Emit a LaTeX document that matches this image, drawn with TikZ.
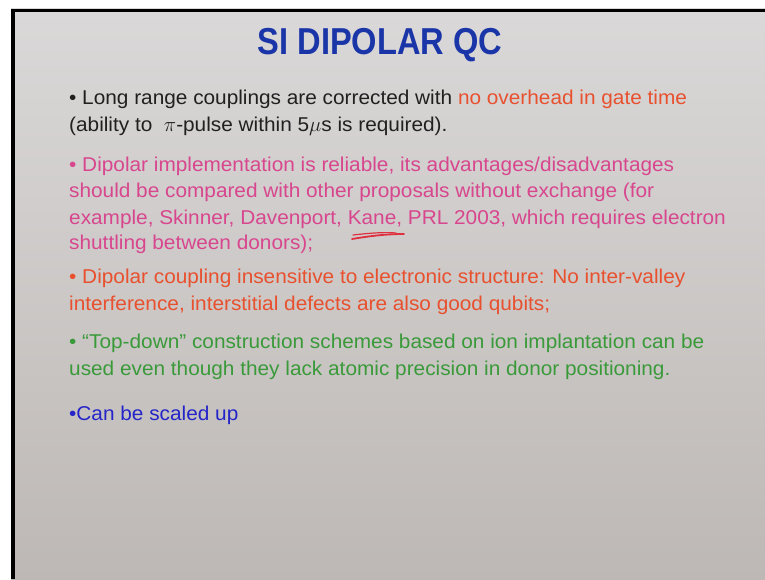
\documentclass[tikz,border=0pt]{standalone}
\usepackage{fontspec}
\setmainfont{Liberation Sans}[FakeStretch=1.04]
\newfontfamily\titlefont{Liberation Sans}[FakeStretch=0.87]
\usetikzlibrary{positioning}
\definecolor{slidetop}{HTML}{DAD8D8}
\definecolor{slidebot}{HTML}{BDB8B5}
\definecolor{inkblack}{HTML}{202020}
\definecolor{inkred}{HTML}{E8502E}
\definecolor{inkpink}{HTML}{D8468E}
\definecolor{inkgreen}{HTML}{3A9A3A}
\definecolor{inkblue}{HTML}{2424C8}
\definecolor{titleblue}{HTML}{1A35A8}
\definecolor{penred}{HTML}{E03040}

\begin{document}
\begin{tikzpicture}[
  x=1pt, y=1pt,
  line cap=round, line join=round,
  txt/.style = {anchor=base west, inner sep=0pt,
                font=\fontsize{20}{24}\selectfont},
  ttl/.style = {anchor=base, inner sep=0pt,
                font=\titlefont\bfseries\fontsize{37.5}{40}\selectfont,
                color=titleblue}
]
\useasboundingbox (0,0) rectangle (765,579);

% slide background and frame
\fill[white] (0,0) rectangle (765,579);
\shade[top color=slidetop, bottom color=slidebot] (11,0) rectangle (765,570);
\fill[black] (11,0) rectangle (15,570);
\fill[black] (11,567) rectangle (765,570);

% title
\node[ttl] (title) at (380,524) {SI DIPOLAR QC};

% bullet 1
\node[txt, color=inkblack] (b1a) at (69,474)
  {\textbullet\ Long range couplings are corrected with \textcolor{inkred}{no overhead in gate time}};
\node[txt, color=inkblack] (b1b) at (69,447)
  {(ability to \ $\pi$-pulse within 5$\mu$s is required).};

% bullet 2
\node[txt, color=inkpink] (b2a) at (69,407)
  {\textbullet\ Dipolar implementation is reliable, its advantages/disadvantages};
\node[txt, color=inkpink] (b2b) at (69,381)
  {should be compared with other proposals without exchange (for};
\node[txt, color=inkpink] (b2c) at (69,354)
  {example, Skinner, Davenport, Kane, PRL 2003, which requires electron};
\node[txt, color=inkpink] (b2d) at (69,329)
  {shuttling between donors);};

% pen mark under Kane
\draw[penred, line width=1.8pt] (352,340) .. controls (370,343) and (386,345) .. (404,345);
\draw[penred, line width=1.2pt] (353,344) .. controls (370,346) and (385,347) .. (396,346);

% bullet 3
\node[txt, color=inkred] (b3a) at (69,295)
  {\textbullet\ Dipolar coupling insensitive to electronic structure: No inter-valley};
\node[txt, color=inkred] (b3b) at (69,269)
  {interference, interstitial defects are also good qubits;};

% bullet 4
\node[txt, color=inkgreen] (b4a) at (69,231)
  {\textbullet\ ``Top-down'' construction schemes based on ion implantation can be};
\node[txt, color=inkgreen] (b4b) at (69,204)
  {used even though they lack atomic precision in donor positioning.};

% bullet 5
\node[txt, color=inkblue] (b5a) at (69,159) {\textbullet Can be scaled up};

\end{tikzpicture}
\end{document}
